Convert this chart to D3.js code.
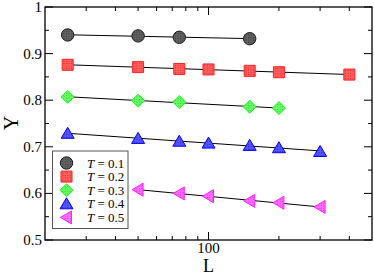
<!DOCTYPE html>
<html><head><meta charset="utf-8">
<script src="https://cdn.jsdelivr.net/npm/d3@7"></script>
<style>body{margin:0;background:#fff}svg{display:block}</style>
</head><body>
<script>
const seriesNames = ["0.1","0.2","0.3","0.4","0.5"];
const L_T01 = [25,50,75,150];
const Y_T01 = [0.940,0.938,0.935,0.932];
const L_T02 = [25,50,75,100,150,200,400];
const Y_T02 = [0.876,0.871,0.867,0.866,0.863,0.860,0.855];
const L_T03 = [25,50,75,150,200];
const Y_T03 = [0.807,0.799,0.796,0.786,0.783];
const L_T04 = [25,50,75,100,150,200,300];
const Y_T04 = [0.729,0.718,0.712,0.708,0.703,0.698,0.690];
const L_T05 = [50,75,100,150,200,300];
const Y_T05 = [0.608,0.600,0.594,0.584,0.580,0.571];
const xMajorTicks = [100];
const xMinorTicks = [30,40,50,60,70,80,90,200,300,400];
const yMajorTicks = [0.5,0.6,0.7,0.8,0.9,1.0];
const yMinorTicks = [0.55,0.65,0.75,0.85,0.95];

(function(){
const W=374,H=277;
const m={l:45,r:2,t:7,b:37};
const svg=d3.select("body").append("svg").attr("width",W).attr("height",H);
const x=d3.scaleLog().domain([20,500]).range([m.l,W-m.r]);
const y=d3.scaleLinear().domain([0.5,1]).range([H-m.b,m.t]);

const styles=[
 {shape:"circle",fill:"#626262",dot:"#1a1a1a",stroke:"#1a1a1a"},
 {shape:"square",fill:"#ff6060",dot:"#e00000",stroke:"#ff2020"},
 {shape:"diamond",fill:"#66ff66",dot:"#00c000",stroke:"#22ee22"},
 {shape:"tri",fill:"#5858ff",dot:"#0000b0",stroke:"#0000ff"},
 {shape:"ltri",fill:"#ff70ff",dot:"#d000d0",stroke:"#ff20ff"}
];
const defs=svg.append("defs");
styles.forEach((s,i)=>{
  const p=defs.append("pattern").attr("id","pat"+i).attr("patternUnits","userSpaceOnUse").attr("width",2.5).attr("height",2.5);
  p.append("rect").attr("width",2.5).attr("height",2.5).attr("fill",s.fill);
  p.append("rect").attr("x",1).attr("y",1).attr("width",0.8).attr("height",0.8).attr("fill",s.dot);
});
function shapePath(shape){
  switch(shape){
    case "circle": return d3.symbol().type(d3.symbolCircle).size(Math.PI*6.2*6.2)();
    case "square": return "M-5.5,-5.5H5.5V5.5H-5.5Z";
    case "diamond": return "M0,-6.5L6.5,0L0,6.5L-6.5,0Z";
    case "tri": return "M0,-6L6.5,5H-6.5Z";
    case "ltri": return "M-6,0L5,-6.5V6.5Z";
  }
}
const Ls=[L_T01,L_T02,L_T03,L_T04,L_T05];
const Ys=[Y_T01,Y_T02,Y_T03,Y_T04,Y_T05];

const g=svg.append("g");
Ls.forEach((Lv,i)=>{
  const Yv=Ys[i];
  const lx=Lv.map(v=>Math.log(v));
  const mx=d3.mean(lx), my=d3.mean(Yv);
  const b=d3.sum(lx.map((v,k)=>(v-mx)*(Yv[k]-my)))/d3.sum(lx.map(v=>(v-mx)*(v-mx)));
  const a=my-b*mx;
  const ends=[d3.min(Lv),d3.max(Lv)];
  g.append("path").attr("d",d3.line().x(d=>x(d)).y(d=>y(a+b*Math.log(d)))(ends))
   .attr("stroke","#000").attr("stroke-width",1).attr("fill","none");
});
Ls.forEach((Lv,i)=>{
  const s=styles[i];
  g.selectAll(null).data(Lv.map((v,k)=>[v,Ys[i][k]])).enter().append("path")
   .attr("d",shapePath(s.shape))
   .attr("transform",d=>`translate(${x(d[0])},${y(d[1])})`)
   .attr("fill",`url(#pat${i})`).attr("stroke",s.stroke).attr("stroke-width",1);
});

svg.append("rect").attr("x",m.l).attr("y",m.t).attr("width",W-m.r-m.l).attr("height",H-m.b-m.t)
  .attr("fill","none").attr("stroke","#000").attr("stroke-width",1.3);
const tg=svg.append("g").attr("stroke","#000").attr("stroke-width",1);
const yB=H-m.b, yT=m.t, xL=m.l, xR=W-m.r;
xMajorTicks.forEach(v=>{
  tg.append("line").attr("x1",x(v)).attr("x2",x(v)).attr("y1",yB).attr("y2",yB-8);
  tg.append("line").attr("x1",x(v)).attr("x2",x(v)).attr("y1",yT).attr("y2",yT+8);
});
xMinorTicks.forEach(v=>{
  tg.append("line").attr("x1",x(v)).attr("x2",x(v)).attr("y1",yB).attr("y2",yB-4);
  tg.append("line").attr("x1",x(v)).attr("x2",x(v)).attr("y1",yT).attr("y2",yT+4);
});
yMajorTicks.forEach(v=>{
  tg.append("line").attr("y1",y(v)).attr("y2",y(v)).attr("x1",xL).attr("x2",xL+8);
  tg.append("line").attr("y1",y(v)).attr("y2",y(v)).attr("x1",xR).attr("x2",xR-8);
});
yMinorTicks.forEach(v=>{
  tg.append("line").attr("y1",y(v)).attr("y2",y(v)).attr("x1",xL).attr("x2",xL+4);
  tg.append("line").attr("y1",y(v)).attr("y2",y(v)).attr("x1",xR).attr("x2",xR-4);
});
const font="Liberation Serif, Times New Roman, serif";
svg.selectAll(null).data(yMajorTicks).enter().append("text")
  .attr("x",42).attr("y",d=>y(d)+5).attr("text-anchor","end")
  .attr("font-family",font).attr("font-size",15).text(d=>d===1?"1":d3.format(".1f")(d));
svg.selectAll(null).data(xMajorTicks).enter().append("text")
  .attr("x",d=>x(d)).attr("y",252.5).attr("text-anchor","middle")
  .attr("font-family",font).attr("font-size",15).text(d=>d);
svg.append("text").attr("x",x(100)).attr("y",272).attr("text-anchor","middle")
  .attr("font-family",font).attr("font-size",18).text("L");
svg.append("text").attr("transform","translate(18,123) rotate(-90)").attr("text-anchor","middle")
  .attr("font-family",font).attr("font-size",20).text("Y");

const lg=svg.append("g");
lg.append("rect").attr("x",52.5).attr("y",151).attr("width",75.5).attr("height",77.5)
  .attr("fill","#fff").attr("stroke","#555").attr("stroke-width",1);
seriesNames.forEach((n,i)=>{
  const yy=163+i*13.6;
  lg.append("path").attr("d",shapePath(styles[i].shape)).attr("transform",`translate(66.5,${yy})`)
    .attr("fill",`url(#pat${i})`).attr("stroke",styles[i].stroke).attr("stroke-width",1);
  const t=lg.append("text").attr("x",87).attr("y",yy+4.5).attr("font-family",font).attr("font-size",13);
  t.append("tspan").attr("font-style","italic").text("T");
  t.append("tspan").text(" = "+n);
});
})();
</script>
</body></html>
